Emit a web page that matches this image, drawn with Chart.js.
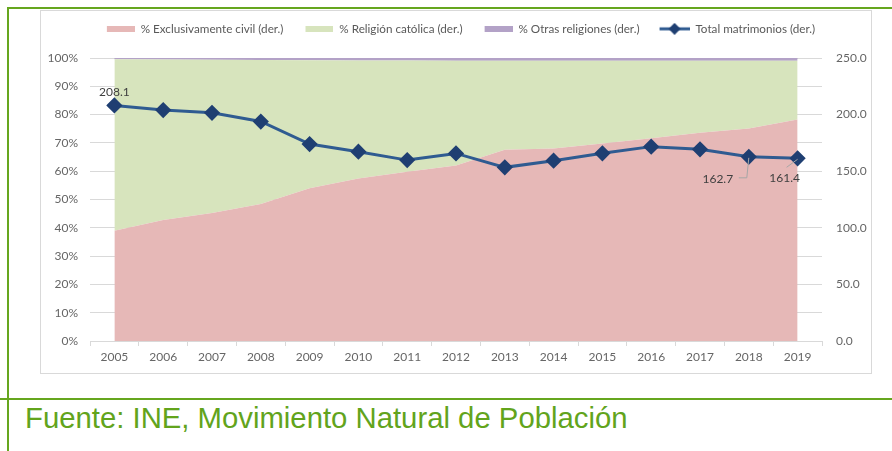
<!DOCTYPE html>
<html>
<head>
<meta charset="utf-8">
<script src="https://cdn.jsdelivr.net/npm/chart.js@4.4.0/dist/chart.umd.min.js"></script>
<style>
  body { margin: 0; background: #fff; width: 892px; height: 451px; position: relative; overflow: hidden; }
  .gl { position: absolute; background: #66a61e; }
  #box { position: absolute; left: 40px; top: 10px; width: 830px; height: 362px; border: 1px solid #d9d9d9; background: #fff; }
  #src { position: absolute; left: 25px; top: 401px; font-family: "Liberation Sans", Arial, sans-serif; font-size: 29.3px; color: #62a41c; white-space: nowrap; }
</style>
</head>
<body>
<div class="gl" style="left:7px;top:7px;width:885px;height:2px"></div>
<div class="gl" style="left:7px;top:7px;width:2px;height:444px"></div>
<div class="gl" style="left:0;top:398px;width:892px;height:2px"></div>
<div id="box"><canvas id="chart" width="830" height="362"></canvas></div>
<div id="src">Fuente: INE, Movimiento Natural de Población</div>
<script>
const years = ['2005', '2006', '2007', '2008', '2009', '2010', '2011', '2012', '2013', '2014', '2015', '2016', '2017', '2018', '2019'];
const civilPct = [39.0, 42.8, 45.2, 48.4, 54.0, 57.4, 59.8, 62.0, 67.6, 68.0, 69.8, 71.6, 73.6, 75.1, 78.3];
const catolicaPct = [60.6, 56.7, 54.2, 50.9, 45.2, 41.7, 39.3, 37.0, 31.4, 31.0, 29.2, 27.4, 25.4, 23.9, 20.7];
const otrasPct = [0.4, 0.5, 0.6, 0.7, 0.8, 0.9, 0.9, 1.0, 1.0, 1.0, 1.0, 1.0, 1.0, 1.0, 1.0];
const totalMatrimonios = [208.1, 204.0, 201.6, 193.9, 174.0, 167.2, 159.8, 165.7, 153.4, 159.3, 165.8, 171.7, 169.3, 162.7, 161.4];
const labels = ['% Exclusivamente civil (der.)', '% Religión católica (der.)', '% Otras religiones (der.)', 'Total matrimonios (der.)'];

const pink = '#e6b8b7', green = '#d7e4bd', purple = '#b3a2c7', lineCol = '#2f5b91', dot = '#1f3f72';
const tickFont = { family: 'Lato, sans-serif', size: 12 };

// legend icons carry 10px of blank space on the left to widen the gap between items
function boxIcon(color) {
  const c = document.createElement('canvas');
  c.width = 38; c.height = 6;
  const g = c.getContext('2d');
  g.fillStyle = color; g.fillRect(10, 0, 28, 6);
  return c;
}
function lineIcon() {
  const c = document.createElement('canvas');
  c.width = 38; c.height = 12;
  const g = c.getContext('2d');
  g.strokeStyle = lineCol; g.lineWidth = 3;
  g.beginPath(); g.moveTo(8, 6); g.lineTo(38, 6); g.stroke();
  g.fillStyle = dot;
  g.beginPath(); g.moveTo(23, 0); g.lineTo(29, 6); g.lineTo(23, 12); g.lineTo(17, 6); g.closePath(); g.fill();
  return c;
}
const icons = [boxIcon(pink), boxIcon(green), boxIcon(purple), lineIcon()];

// labels for first and last two points of the line
const pointLabels = {
  id: 'pointLabels',
  afterDatasetsDraw(chart) {
    const pts = chart.getDatasetMeta(3).data;
    const ctx = chart.ctx;
    ctx.save();
    ctx.font = '12px Lato, sans-serif';
    ctx.fillStyle = '#404040';
    ctx.textAlign = 'center';
    ctx.textBaseline = 'middle';
    ctx.fillText(totalMatrimonios[0].toFixed(1), pts[0].x, pts[0].y - 13);
    ctx.strokeStyle = '#a6a6a6';
    ctx.lineWidth = 1;
    const a = pts[13], b = pts[14];
    ctx.beginPath();
    ctx.moveTo(a.x, a.y + 1); ctx.lineTo(a.x - 2, a.y + 21); ctx.lineTo(a.x - 10, a.y + 21);
    ctx.moveTo(b.x, b.y + 1); ctx.lineTo(b.x - 11, b.y + 9);
    ctx.stroke();
    ctx.fillText(totalMatrimonios[13].toFixed(1), a.x - 31, a.y + 22);
    ctx.fillText(totalMatrimonios[14].toFixed(1), b.x - 13, b.y + 20);
    ctx.restore();
  }
};

const legendHeight = {
  id: 'legendHeight',
  beforeInit(chart) {
    const fit = chart.legend.fit;
    chart.legend.fit = function () { fit.call(this); this.height = 47; };
  }
};

new Chart(document.getElementById('chart'), {
  type: 'line',
  data: {
    labels: years,
    datasets: [
      { label: labels[0], data: civilPct, yAxisID: 'y', fill: 'origin', backgroundColor: pink, borderWidth: 0, pointRadius: 0, order: 1 },
      { label: labels[1], data: catolicaPct, yAxisID: 'y', fill: '-1', backgroundColor: green, borderWidth: 0, pointRadius: 0, order: 1 },
      { label: labels[2], data: otrasPct, yAxisID: 'y', fill: '-1', backgroundColor: purple, borderColor: purple, borderWidth: 1, pointRadius: 0, order: 1 },
      { label: labels[3], data: totalMatrimonios, yAxisID: 'y1', fill: false, borderColor: lineCol, borderWidth: 3,
        pointStyle: 'rectRot', pointRadius: 6, pointBackgroundColor: dot, pointBorderColor: dot, order: 0 }
    ]
  },
  options: {
    responsive: false,
    animation: false,
    layout: { padding: 0 },
    plugins: {
      tooltip: { enabled: false },
      legend: {
        position: 'top',
        labels: {
          usePointStyle: true,
          pointStyleWidth: 38,
          padding: 12,
          color: '#595959',
          font: { family: 'Lato, sans-serif', size: 11.7 },
          sort: (a, b) => a.datasetIndex - b.datasetIndex,
          generateLabels: (chart) => chart.data.datasets.map((ds, i) => ({
            text: ds.label, pointStyle: icons[i], datasetIndex: i, hidden: false,
            fillStyle: 'transparent', strokeStyle: 'transparent', lineWidth: 0, fontColor: '#595959'
          }))
        }
      }
    },
    scales: {
      x: {
        offset: true,
        grid: { offset: true, drawOnChartArea: false, drawTicks: true, tickLength: 5, color: '#d9d9d9' },
        border: { color: '#d9d9d9' },
        ticks: { color: '#666', font: tickFont, padding: 4, maxRotation: 0, autoSkip: false },
        afterFit: (s) => { s.height = 32; }
      },
      y: {
        stacked: true,
        min: 0, max: 100,
        grid: { color: '#d9d9d9', drawTicks: false },
        border: { display: false },
        ticks: { stepSize: 10, color: '#666', font: tickFont, padding: 12, callback: (v) => v + '%' },
        afterFit: (s) => { s.width = 49; }
      },
      y1: {
        position: 'right',
        min: 0, max: 250,
        grid: { drawOnChartArea: false, drawTicks: false },
        border: { display: false },
        ticks: { stepSize: 50, color: '#666', font: tickFont, padding: 14, callback: (v) => v.toFixed(1) },
        afterFit: (s) => { s.width = 49; }
      }
    }
  },
  plugins: [pointLabels, legendHeight]
});
</script>
</body>
</html>
